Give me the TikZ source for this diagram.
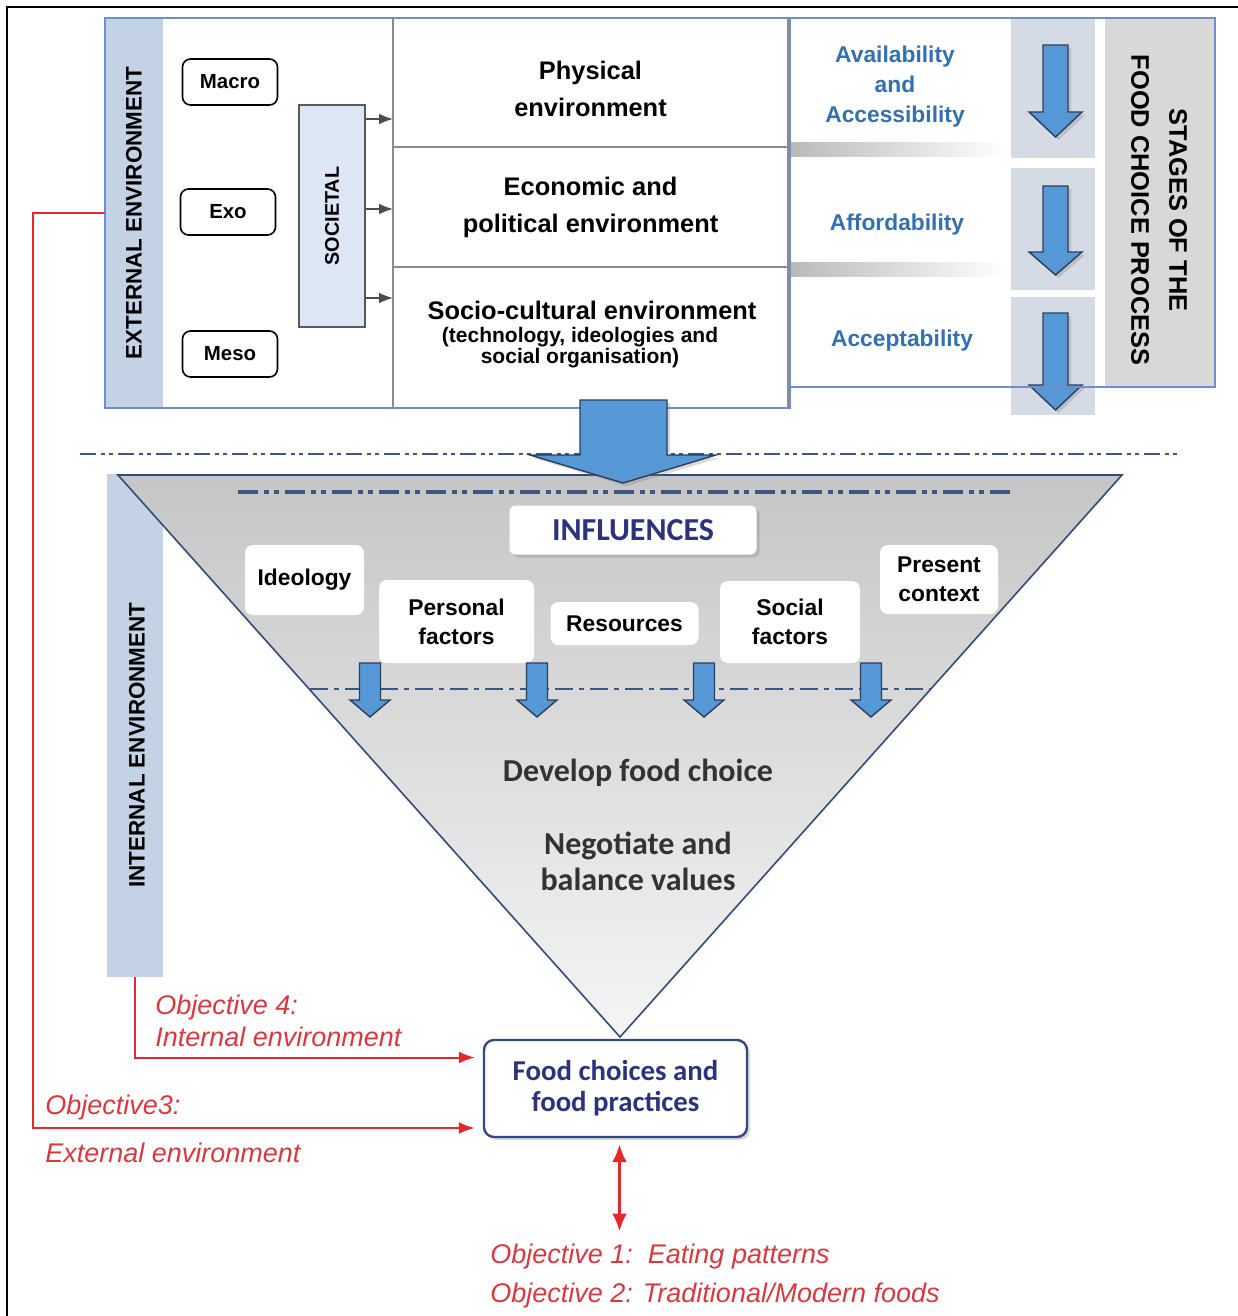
\documentclass[tikz,border=0pt]{standalone}
\usepackage{fontspec}
\setmainfont{Liberation Sans}
\newfontfamily\calibfont{Carlito}
\usepackage{tikz}
\usetikzlibrary{positioning,calc,shadows,arrows.meta}

\definecolor{frameblue}{RGB}{112,142,200}
\definecolor{bandblue}{RGB}{196,210,230}
\definecolor{socblue}{RGB}{220,230,244}
\definecolor{arrblue}{RGB}{86,152,214}
\definecolor{arredge}{RGB}{45,62,92}
\definecolor{stageblue}{RGB}{52,112,175}
\definecolor{navy}{RGB}{45,50,125}
\definecolor{objred}{RGB}{228,40,46}
\definecolor{objtext}{RGB}{214,58,64}
\definecolor{dashblue}{RGB}{62,86,128}
\definecolor{panelgray}{RGB}{213,219,228}
\definecolor{stagegray}{RGB}{216,216,216}
\definecolor{triedge}{RGB}{50,75,120}

\tikzset{
	box line/.style={draw=frameblue, line width=1pt},% border of the two upper panels
	band/.style={fill=bandblue, inner sep=0pt},
	vert label/.style={rotate=90, font=\bfseries\fontsize{11.2}{13}\selectfont},
	lvl box/.style={draw, thick, rounded corners=4pt, fill=white, inner sep=0pt, minimum width=47.5pt, minimum height=23pt, font=\bfseries\fontsize{10.2}{12}\selectfont},
	soc box/.style={draw=black!65, thick, fill=socblue, inner sep=0pt, minimum width=33pt, minimum height=111pt},
	env row/.style={draw=black!45, line width=0.8pt, inner sep=0pt, outer sep=0pt, minimum width=197.5pt},
	row text/.style={align=center, font=\bfseries\fontsize{12.7}{18.5}\selectfont},
	small arrow/.style={-{Latex[length=7pt,width=5.5pt]}, line width=0.9pt, black!70},
	stage/.style={align=center, text=stageblue, font=\bfseries\fontsize{11.4}{15}\selectfont},
	panel/.style={fill=panelgray, inner sep=0pt, minimum width=42pt},
	blue arrow/.style={fill=arrblue, draw=arredge, line width=0.7pt, line join=miter},
	soft shadow/.style={drop shadow={shadow xshift=1.5pt, shadow yshift=-1.5pt, opacity=0.3}},
	dash line/.style={dashblue, line width=1.4pt, dash pattern=on 8pt off 2.5pt on 2pt off 2pt on 2pt off 2.5pt},
	infl/.style={fill=white, rounded corners=4pt, inner sep=0pt, align=center, font=\bfseries\fontsize{11.4}{14.5}\selectfont},
	big text/.style={align=center, text=black!80, font=\calibfont\bfseries\fontsize{16}{18}\selectfont},
	red line/.style={draw=objred, line width=1pt, -{Latex[length=8pt,width=6pt]}},
	obj text/.style={text=objtext, align=left, inner sep=0pt, anchor=west, font=\itshape\fontsize{13.5}{16}\selectfont}
}

\begin{document}
\begin{tikzpicture}[x=0.5pt, y=-0.5pt]
\useasboundingbox (0,0) rectangle (1237,1316);
\draw[line width=1pt] (7,1330) -- (7,7) -- (1250,7);

% external environment
\fill[white] (105,18) rectangle (790,408);
\node[band, minimum width=29pt, minimum height=195pt] (extband) at (134,213) {};
\node[vert label] (extlbl) at (extband) {EXTERNAL ENVIRONMENT};
\node[lvl box] (macro) at (230,82) {Macro};
\node[lvl box] (exo) at (228,212) {Exo};
\node[lvl box] (meso) at (230,354) {Meso};
\node[soc box] (soc) at (332,216) {};
\node[vert label, font=\bfseries\fontsize{9.9}{12}\selectfont] (soclbl) at (soc) {SOCIETAL};
\node[env row, minimum height=64.5pt] (phys) at (590.5,82.5) {};
\node[env row, minimum height=60pt, below=0pt of phys] (econ) {};
\node[env row, minimum height=70.5pt, below=0pt of econ] (socio) {};
\node[row text] (physt) at ([yshift=-3pt]phys.center) {Physical\\environment};
\node[row text] (econt) at (econ) {Economic and\\political environment};
\node[font=\bfseries\fontsize{12.7}{15}\selectfont] (sociot) at (592,310) {Socio-cultural environment};
\node[align=center, font=\bfseries\fontsize{10.5}{10.5}\selectfont] (sociosub) at (580,348) {(technology, ideologies and\\social organisation)};
\draw[box line] (105,18) rectangle (790,408);
\foreach \y/\r in {119/phys, 209/econ, 298/socio}
	\draw[small arrow] (soc.east |- 0,\y) -- (\r.west |- 0,\y);

% stages of the food choice process
\fill[white] (790,18) rectangle (1215,387);
\node[fill=stagegray, inner sep=0pt, minimum width=55pt, minimum height=184.5pt] (stageband) at (1160,202.5) {};
\node[rotate=-90, align=center, font=\bfseries\fontsize{12.7}{19}\selectfont] (stagelbl) at (1159,210) {STAGES OF THE\\FOOD CHOICE PROCESS};
\node[panel, minimum height=70pt] (pan1) at (1053,88) {};
\node[panel, minimum height=61pt] (pan2) at (1053,229) {};
\node[panel, minimum height=59pt] (pan3) at (1053,356) {};
\shade[left color=gray!55, right color=white] (790,143) rectangle (1005,157);
\shade[left color=gray!55, right color=white] (790,262) rectangle (1005,276);
\foreach \t/\n/\e in {45/112/137, 186/252/275, 313/385/410}
	\draw[blue arrow, soft shadow] (1043,\t) -- (1068,\t) -- (1068,\n) -- (1082,\n) -- (1055.5,\e) -- (1029,\n) -- (1043,\n) -- cycle;
\draw[box line] (790,18) rectangle (1215,387);
\node[stage] (avail) at (895,87) {Availability\\and\\Accessibility};
\node[stage] (afford) at (897,225) {Affordability};
\node[stage] (accept) at (902,341) {Acceptability};

\draw[dash line] (80,454) -- (1178,454);

% internal environment
\node[band, minimum width=28pt, minimum height=251.5pt] (intband) at (135,725.5) {};
\node[vert label] (intlbl) at (137,745) {INTERNAL ENVIRONMENT};
\shade[top color=gray!45, middle color=gray!35, bottom color=gray!8] (118,475) -- (1122,475) -- (620,1037) -- cycle;
\draw[triedge, line width=0.8pt] (118,475) -- (1122,475) -- (620,1037) -- cycle;
\draw[dash line, line width=2pt, dash pattern=on 10pt off 3pt on 2.5pt off 2.5pt on 2.5pt off 3pt] (238,492) -- (1015,492);
\draw[dash line, dash pattern=on 9pt off 3pt on 2.5pt off 3pt] (310,689) -- (931,689);
\draw[blue arrow, soft shadow] (580,400) -- (667,400) -- (667,455) -- (716,455) -- (623,483) -- (530,455) -- (580,455) -- cycle;

\node[fill=white, rounded corners=3pt, inner sep=0pt, minimum width=123.5pt, minimum height=24.5pt, soft shadow, text=navy, font=\calibfont\bfseries\fontsize{16}{18}\selectfont] (influ) at (633,530) {INFLUENCES};
\node[infl, minimum width=59.5pt, minimum height=35pt] (ideo) at (304.5,580) {Ideology};
\node[infl, minimum width=77.5pt, minimum height=41.5pt] (pers) at (456.5,621.5) {Personal\\factors};
\node[infl, minimum width=74pt, minimum height=21.5pt] (reso) at (624.5,623.5) {Resources};
\node[infl, minimum width=70pt, minimum height=41pt] (soci) at (790,622) {Social\\factors};
\node[infl, minimum width=59pt, minimum height=34.5pt] (pres) at (939,579.5) {Present\\context};
\foreach \x in {370,537,704,871}
	\draw[blue arrow] (\x-10.5,663) -- (\x+10.5,663) -- (\x+10.5,700) -- (\x+20,700) -- (\x,717) -- (\x-20,700) -- (\x-10.5,700) -- cycle;

\node[big text] (devel) at (638,773) {Develop food choice};
\node[big text] (nego) at (638,861) {Negotiate and\\balance values};

% food choices and objectives
\node[draw=triedge, line width=1.2pt, rounded corners=5pt, fill=white, soft shadow, inner sep=0pt, minimum width=131.5pt, minimum height=48.5pt, align=center, text=navy, font=\calibfont\bfseries\fontsize{14.4}{15.5}\selectfont] (food) at (615.5,1088.5) {Food choices and\\food practices};
\draw[red line, shorten >=4pt] (extband.west) -- ++(-72,0) |- ([yshift=-19.75pt]food.west);
\draw[red line, shorten >=4pt] (intband.south) |- ([yshift=15.5pt]food.west);
\node[obj text] (obj4) at (155,1021) {Objective 4:\\Internal environment};
\node[obj text] (obj3a) at (45,1108) {Objective3:};
\node[obj text] (obj3b) at (45,1153) {External environment};
\node[obj text, font=\itshape\fontsize{13.5}{19.5}\selectfont] (obj12) at (490,1276) {Objective 1:\ \ Eating patterns\\Objective 2: Traditional/Modern foods};
\draw[red line, line width=1.5pt, {Latex[length=9pt,width=7.5pt]}-{Latex[length=9pt,width=7.5pt]}, shorten <=3pt, shorten >=6pt] ([xshift=2pt]food.south) -- ([xshift=2pt]obj12.north -| food.south);
\end{tikzpicture}
\end{document}
